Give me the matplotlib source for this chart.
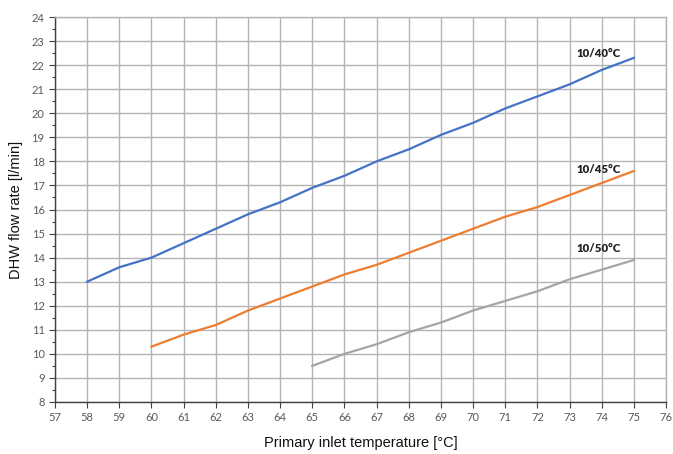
import matplotlib
matplotlib.use("Agg")
import matplotlib.pyplot as plt
from matplotlib.ticker import MultipleLocator

x40 = [58, 59, 60, 61, 62, 63, 64, 65, 66, 67, 68, 69, 70, 71, 72, 73, 74, 75]
y40 = [13.0, 13.6, 14.0, 14.6, 15.2, 15.8, 16.3, 16.9, 17.4, 18.0, 18.5, 19.1, 19.6, 20.2, 20.7, 21.2, 21.8, 22.3]
x45 = [60, 61, 62, 63, 64, 65, 66, 67, 68, 69, 70, 71, 72, 73, 74, 75]
y45 = [10.3, 10.8, 11.2, 11.8, 12.3, 12.8, 13.3, 13.7, 14.2, 14.7, 15.2, 15.7, 16.1, 16.6, 17.1, 17.6]
x50 = [65, 66, 67, 68, 69, 70, 71, 72, 73, 74, 75]
y50 = [9.5, 10.0, 10.4, 10.9, 11.3, 11.8, 12.2, 12.6, 13.1, 13.5, 13.9]
series_labels = ["10/40°C", "10/45°C", "10/50°C"]
label_pos = [(73.9, 22.5), (73.9, 17.65), (73.9, 14.4)]
colors = ["#4472C4", "#ED7D31", "#A5A5A5"]

fig = plt.figure(figsize=(6.73, 4.54), dpi=100)
ax = fig.add_axes([55/673, 1-402/454, (666-55)/673, (402-17)/454])

for xs, ys, c in zip([x40, x45, x50], [y40, y45, y50], colors):
    ax.plot(xs, ys, color=c, lw=1.6, zorder=3)

for lab, (lx, ly) in zip(series_labels, label_pos):
    ax.text(lx, ly, lab, ha="center", va="center", fontsize=8.2, fontweight="heavy",
            family="Lato", color="#222222")

ax.set_xlim(57, 76)
ax.set_ylim(8, 24)
ax.xaxis.set_major_locator(MultipleLocator(1))
ax.yaxis.set_major_locator(MultipleLocator(1))
ax.yaxis.set_minor_locator(MultipleLocator(0.5))
ax.grid(True, which="major", color="#B4B4B4", lw=1.0, zorder=0)
ax.set_axisbelow(True)
for s in ["top", "right"]:
    ax.spines[s].set_color("#B4B4B4")
    ax.spines[s].set_linewidth(1.0)
for s in ["left", "bottom"]:
    ax.spines[s].set_color("#404040")
    ax.spines[s].set_linewidth(1.0)
ax.tick_params(axis="both", which="major", length=4, width=0.8, color="#404040",
               labelsize=8, labelcolor="#595959")
ax.tick_params(axis="y", which="minor", length=2.5, width=0.8, color="#404040")
for t in ax.get_xticklabels() + ax.get_yticklabels():
    t.set_family("Lato")

ax.set_xlabel("Primary inlet temperature [°C]", family="Liberation Sans", fontsize=10.5,
              color="#111111", labelpad=9)
ax.set_ylabel("DHW flow rate [l/min]", family="Liberation Sans", fontsize=10.5,
              color="#111111", labelpad=6)

fig.savefig("out.png", dpi=100)
